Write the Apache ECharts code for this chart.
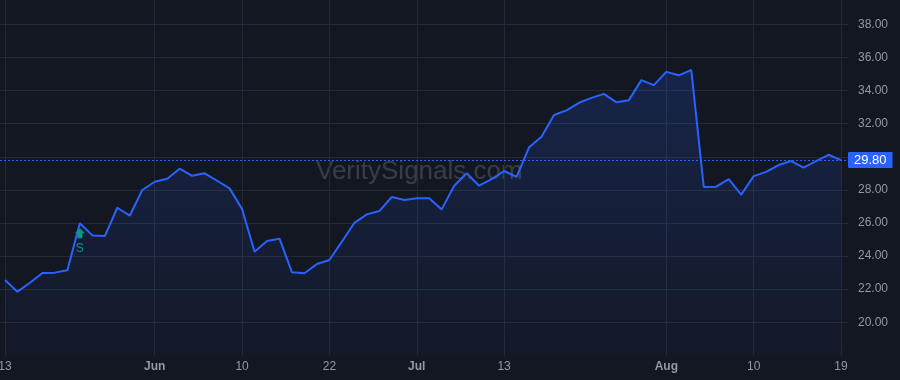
<!DOCTYPE html>
<html>
<head>
<meta charset="utf-8">
<script src="https://cdn.jsdelivr.net/npm/echarts@6/dist/echarts.min.js"></script>
<style>
  html, body { margin: 0; padding: 0; background: #131722; }
  #chart { width: 900px; height: 380px; }
</style>
</head>
<body>
<div id="chart"></div>
<script>
// 收盘价（按交易日序号）
const prices = [
  22.55, 21.85, 22.39, 22.98, 23.00, 23.14, 25.98, 25.25, 25.21, 26.92,
  26.44, 27.99, 28.49, 28.67, 29.28, 28.85, 29.00, 28.55, 28.09, 26.84,
  24.26, 24.91, 25.05, 23.02, 22.96, 23.52, 23.76, 24.87, 26.01, 26.52,
  26.72, 27.57, 27.39, 27.49, 27.49, 26.82, 28.25, 29.00, 28.25, 28.65,
  29.14, 28.79, 30.57, 31.21, 32.52, 32.80, 33.26, 33.56, 33.80, 33.29,
  33.42, 34.63, 34.33, 35.13, 34.92, 35.24, 28.18, 28.19, 28.65, 27.71,
  28.83, 29.09, 29.50, 29.74, 29.34, 29.74, 30.12, 29.80,
];
// x 轴刻度位置与文字
const tickIndex = [0, 12, 19, 26, 33, 40, 53, 60, 67];
const tickText = ['13', 'Jun', '10', '22', 'Jul', '13', 'Aug', '10', '19'];
const monthLabels = ['Jun', 'Jul', 'Aug'];
// 信号点
const signalIndex = 6;
const signalText = 'S';
const lastPrice = 29.80;

const COLORS = {
  bg: '#131722',
  grid: '#252935',
  line: '#2962ff',
  text: '#9598a1',
  signal: '#089981',
};

const chart = echarts.init(document.getElementById('chart'));
const option = {
  backgroundColor: COLORS.bg,
  animation: false,
  textStyle: { fontFamily: 'Liberation Sans, Arial, sans-serif' },
  grid: { left: 0, right: 52, top: 0, bottom: 24.6, containLabel: false, outerBoundsMode: 'none' },
  graphic: [{
    type: 'text', left: 316, top: 159, z: 0,
    style: {
      text: 'VeritySignals.com',
      fill: 'rgba(255,255,255,0.16)', font: '26px Liberation Sans, Arial, sans-serif',
    },
  }],
  xAxis: {
    type: 'value', min: -0.4, max: 67.56,
    axisLine: { show: false },
    axisTick: { show: false, customValues: tickIndex },
    splitLine: { show: true, lineStyle: { color: COLORS.grid, width: 1 } },
    axisLabel: {
      customValues: tickIndex,
      color: COLORS.text, fontSize: 12, margin: 5,
      formatter: v => {
        const t = tickText[tickIndex.indexOf(Math.round(v))] || '';
        return monthLabels.includes(t) ? `{b|${t}}` : t;
      },
      rich: { b: { fontWeight: 'bold', color: COLORS.text, fontSize: 12 } },
    },
  },
  yAxis: {
    type: 'value', position: 'right', min: 18, max: 39.47, interval: 2,
    axisLine: { show: false },
    axisTick: { show: false },
    splitLine: { lineStyle: { color: COLORS.grid, width: 1 }, showMinLine: false, showMaxLine: false },
    axisLabel: {
      color: COLORS.text, fontSize: 12, margin: 10,
      showMinLabel: false, showMaxLabel: false,
      // 30.00 被最新价标签遮住
      formatter: v => (Math.abs(v - lastPrice) < 1 ? '' : v.toFixed(2)),
    },
  },
  series: [{
    type: 'line',
    data: prices.map((p, i) => [i, p]),
    symbol: 'none',
    lineStyle: { color: COLORS.line, width: 2 },
    areaStyle: {
      color: new echarts.graphic.LinearGradient(0, 0, 0, 1, [
        { offset: 0, color: 'rgba(41,98,255,0.25)' },
        { offset: 1, color: 'rgba(41,98,255,0.04)' },
      ]),
      origin: 'start',
    },
    markLine: {
      silent: true, symbol: 'none',
      lineStyle: { color: COLORS.line, type: [2, 2], width: 1 },
      label: {
        position: 'end', distance: 0,
        formatter: lastPrice.toFixed(2),
        backgroundColor: COLORS.line, color: '#fff',
        fontSize: 13, padding: [2, 6, 1, 6], borderRadius: 1,
      },
      data: [{ yAxis: lastPrice }],
    },
    markPoint: {
      silent: true,
      symbol: 'path://M5,0 L10,5 L7.5,5 L7.5,10 L2.5,10 L2.5,5 L0,5 Z',
      symbolSize: [10, 10],
      symbolOffset: [0, 10],
      itemStyle: { color: COLORS.signal },
      label: {
        show: true, position: 'bottom', distance: 4,
        formatter: signalText, color: COLORS.signal, fontSize: 12,
      },
      data: [{ coord: [signalIndex, prices[signalIndex]] }],
    },
  }],
};
chart.setOption(option);
window.addEventListener('resize', () => chart.resize());
</script>
</body>
</html>
